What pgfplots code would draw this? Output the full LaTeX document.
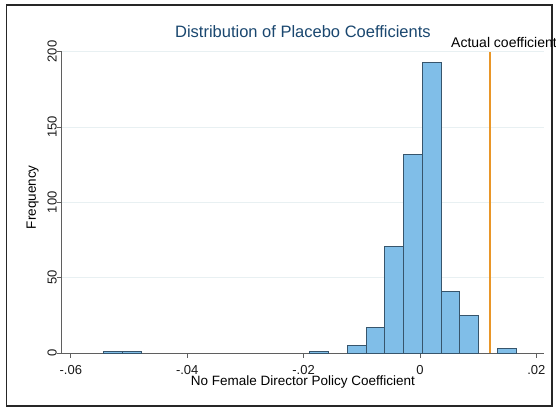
\documentclass[border=0pt]{standalone}
\usepackage{pgfplots}
\pgfplotsset{compat=1.18}
\usepackage{fontspec}
\setmainfont{Liberation Sans}
\definecolor{barfill}{RGB}{128,190,232}
\definecolor{baredge}{RGB}{55,85,108}
\definecolor{titleblue}{RGB}{26,71,111}
\definecolor{actorange}{RGB}{233,150,40}
\definecolor{gridc}{RGB}{232,240,242}
\definecolor{axisgray}{RGB}{95,95,95}
\begin{document}
\begin{tikzpicture}[x=1pt,y=1pt]
\useasboundingbox (0,0) rectangle (556,408);
\draw[line width=1.6pt, black!85] (6.5,1.8) rectangle (552,403);
\begin{axis}[
  at={(61.5pt,55pt)}, anchor=south west,
  scale only axis, width=482.8pt, height=301.4pt,
  xmin=-0.0616, xmax=0.02136, ymin=0, ymax=200,
  axis x line*=bottom, axis y line*=left,
  axis line style={axisgray, line width=0.7pt, -},
  scaled x ticks=false, scaled y ticks=false,
  xtick={-0.06,-0.04,-0.02,0,0.02}, xticklabels={-.06,-.04,-.02,0,.02},
  ytick={0,50,100,150,200},
  yticklabels={\rotatebox{90}{0},\rotatebox{90}{50},\rotatebox{90}{100},\rotatebox{90}{150},\rotatebox{90}{200}},
  tick align=outside, major tick length=4.5pt,
  tick style={axisgray, line width=0.7pt},
  ymajorgrids, grid style={gridc, line width=0.9pt},
  ticklabel style={font=\fontsize{13}{14}\selectfont, text=black!90, inner sep=0pt},
  xticklabel style={yshift=-7.5pt},
  xlabel={No Female Director Policy Coefficient},
  ylabel={Frequency},
  title={Distribution of Placebo Coefficients},
  every axis x label/.style={at={(axis description cs:0.5,0)}, anchor=base, yshift=-32pt, inner sep=0pt, font=\fontsize{13.5}{15}\selectfont},
  every axis y label/.style={at={(axis description cs:0,0.5)}, rotate=90, anchor=center, xshift=5pt, yshift=28.8pt, inner sep=0pt, font=\fontsize{13.5}{15}\selectfont},
  every axis title/.style={at={(axis description cs:0.5,1)}, anchor=base, yshift=14.6pt, inner sep=0pt, font=\fontsize{16.5}{18}\selectfont, text=titleblue},
  clip=false,
]
\addplot[ybar interval, fill=barfill, draw=baredge, line width=0.8pt] coordinates {
(-0.054390,1) (-0.051167,1) (-0.047944,1)};
\addplot[ybar interval, fill=barfill, draw=baredge, line width=0.8pt] coordinates {
(-0.018937,1) (-0.015714,1)};
\addplot[ybar interval, fill=barfill, draw=baredge, line width=0.8pt] coordinates {
(-0.012491,5) (-0.009268,17) (-0.006045,71) (-0.002822,132) (0.000401,193) (0.003624,41) (0.006847,25) (0.010070,25)};
\addplot[ybar interval, fill=barfill, draw=baredge, line width=0.8pt] coordinates {
(0.013293,3) (0.016516,3)};
\addplot[actorange, line width=1.4pt] coordinates {(0.012,0) (0.012,200)};
\end{axis}
\node[anchor=base west, inner sep=0pt, font=\fontsize{14}{15}\selectfont] at (451,360) {Actual coefficient};
\end{tikzpicture}
\end{document}
